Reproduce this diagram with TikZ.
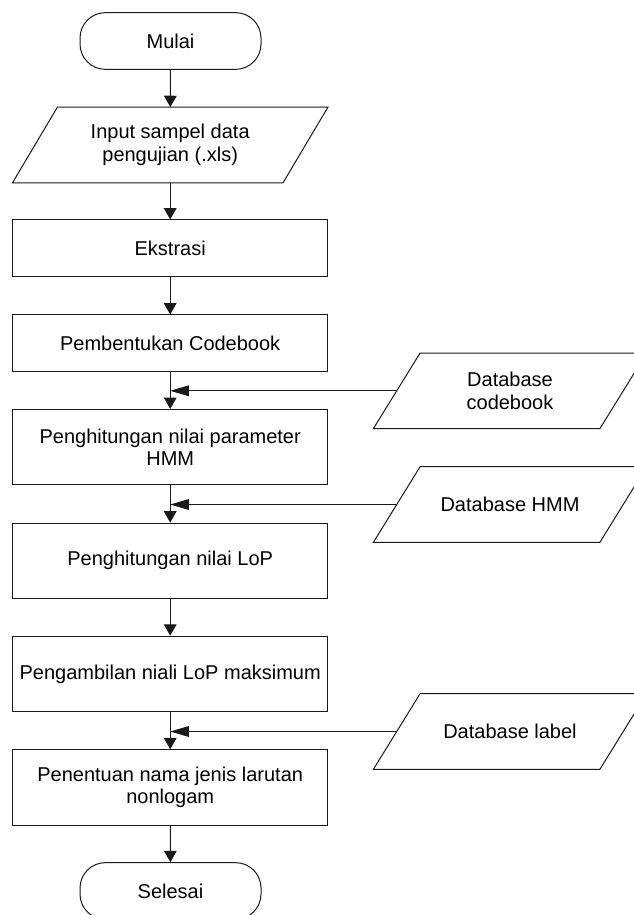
\documentclass[tikz,border=0pt]{standalone}
\usepackage{fontspec}
\setmainfont{Liberation Sans}
\usetikzlibrary{arrows.meta}
\newcommand\drawpara[2]{\draw[line] ([xshift=#2]#1.north west) -- ([xshift=#2]#1.north east) -- ([xshift=-#2]#1.south east) -- ([xshift=-#2]#1.south west) -- cycle;}
\begin{document}
\begin{tikzpicture}[x=0.75pt,y=-0.75pt,
  every node/.style={font=\fontsize{15pt}{16.9pt}\selectfont, align=center, inner sep=0pt},
  line/.style={draw=black!90, line width=0.75pt},
  proc/.style={line, fill=white, minimum width=236.25pt},
  shortbox/.style={proc, minimum height=42.5pt},
  tallbox/.style={proc, minimum height=56.6pt},
  term/.style={line, fill=white, rounded corners=19pt, minimum width=135.75pt, minimum height=42.5pt},
  iobody/.style={minimum width=202.5pt, minimum height=56.5pt},
  dbbody/.style={minimum width=169.5pt, minimum height=56.25pt},
  flow/.style={line, -{Triangle[length=8.5pt,width=9.5pt]}},
  feed/.style={line, -{Triangle[length=14pt,width=8pt]}},
]
\path[use as bounding box, fill=white] (0,0) rectangle (633,915);

% main column
\node[term] (start) at (170.5,41) {Mulai};
\node[iobody] (inp) at (170.2,145) {Input sampel data\\pengujian (.xls)};
\drawpara{inp}{16.9pt}
\node[shortbox] (ext) at (170.2,248.3) {Ekstrasi};
\node[shortbox] (cb) at (170.2,343.3) {Pembentukan Codebook};
\node[tallbox] (hmm) at (170.2,447.2) {Penghitungan nilai parameter\\HMM};
\node[tallbox] (lop) at (170.2,560.8) {Penghitungan nilai LoP};
\node[tallbox] (max) at (170.2,673.9) {Pengambilan niali LoP maksimum};
\node[tallbox] (name) at (170.2,787.5) {Penentuan nama jenis larutan\\nonlogam};
\node[term] (end) at (170.5,891) {Selesai};

% databases
\node[dbbody] (dbc) at (510,390.8) {Database\\codebook};
\drawpara{dbc}{17.5pt}
\node[dbbody] (dbh) at (510,504.5) {Database HMM};
\drawpara{dbh}{17.5pt}
\node[dbbody] (dbl) at (510,731.5) {Database label};
\drawpara{dbl}{17.5pt}

% flow
\draw[flow] (start) -- (inp);
\draw[flow] (inp) -- (ext);
\draw[flow] (ext) -- (cb);
\draw[flow] (cb) -- (hmm);
\draw[flow] (hmm) -- (lop);
\draw[flow] (lop) -- (max);
\draw[flow] (max) -- (name);
\draw[flow] (name) -- (end);

% feeds
\draw[feed] (dbc.west) -- (dbc.west -| cb.south);
\draw[feed] (dbh.west) -- (dbh.west -| hmm.south);
\draw[feed] (dbl.west) -- (dbl.west -| max.south);
\end{tikzpicture}
\end{document}
